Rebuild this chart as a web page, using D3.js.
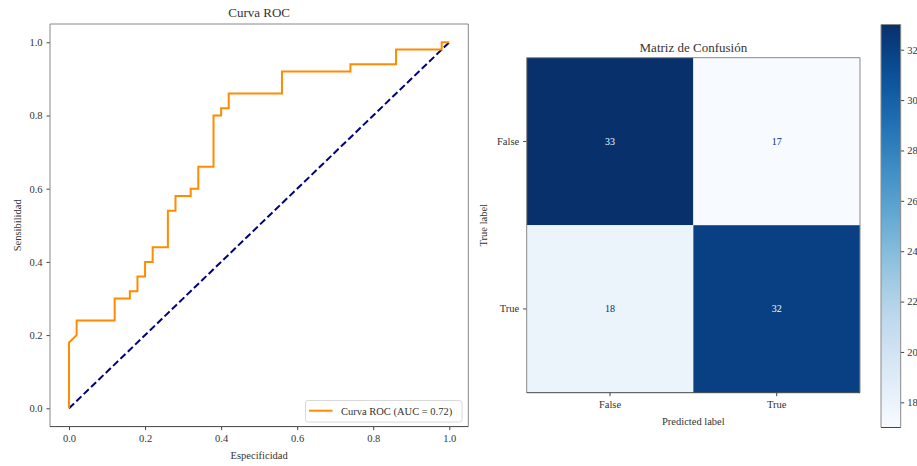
<!DOCTYPE html>
<html>
<head>
<meta charset="utf-8">
<script src="https://cdn.jsdelivr.net/npm/d3@7/dist/d3.min.js"></script>
<style>
  html, body { margin: 0; padding: 0; background: #fff; }
  svg { display: block; }
  text { font-family: "Liberation Serif", "DejaVu Serif", serif; fill: #333; }
</style>
</head>
<body>
<svg id="chart" width="917" height="466"></svg>
<script>
// ROC curve points (false positive rate, true positive rate)
const rocFpr = [0.00, 0.00, 0.02, 0.02, 0.12, 0.12, 0.16, 0.16, 0.18, 0.18, 0.20, 0.20, 0.22, 0.22,
                0.26, 0.26, 0.28, 0.28, 0.32, 0.32, 0.34, 0.34, 0.38, 0.38, 0.40, 0.40, 0.42, 0.42,
                0.56, 0.56, 0.74, 0.74, 0.86, 0.86, 0.98, 0.98, 1.00];
const rocTpr = [0.00, 0.18, 0.20, 0.24, 0.24, 0.30, 0.30, 0.32, 0.32, 0.36, 0.36, 0.40, 0.40, 0.44,
                0.44, 0.54, 0.54, 0.58, 0.58, 0.60, 0.60, 0.66, 0.66, 0.80, 0.80, 0.82, 0.82, 0.86,
                0.86, 0.92, 0.92, 0.94, 0.94, 0.98, 0.98, 1.00, 1.00];
const aucValue = 0.72;
const rocTicks = [0.0, 0.2, 0.4, 0.6, 0.8, 1.0];

// Confusion matrix
const cmLabels = ["False", "True"];
const cmValues = [[33, 17],
                  [18, 32]];
const cbarTicks = [18, 20, 22, 24, 26, 28, 30, 32];

const svg = d3.select("#chart");
const fontSize = 10.5;
const spineV = "#888", spineBottom = "#444";

function spines(g, x0, x1, y0, y1) {
  g.append("line").attr("x1", x0).attr("x2", x1).attr("y1", y0).attr("y2", y0).attr("stroke", spineV);
  g.append("line").attr("x1", x0).attr("x2", x0).attr("y1", y0).attr("y2", y1).attr("stroke", spineV);
  g.append("line").attr("x1", x1).attr("x2", x1).attr("y1", y0).attr("y2", y1).attr("stroke", spineV);
  g.append("line").attr("x1", x0).attr("x2", x1).attr("y1", y1).attr("y2", y1).attr("stroke", spineBottom);
}

function styleAxis(a) {
  a.select(".domain").remove();
  a.selectAll(".tick line").attr("stroke", "#444");
  a.selectAll(".tick text").attr("font-size", fontSize).attr("font-family", "Liberation Serif").attr("fill", "#333");
}

// ---------- ROC panel ----------
const roc = { left: 50, right: 468.3, top: 24, bottom: 426.6 };
const x = d3.scaleLinear().domain([-0.05, 1.05]).range([roc.left, roc.right]);
const y = d3.scaleLinear().domain([-0.05, 1.05]).range([roc.bottom, roc.top]);

const gRoc = svg.append("g");

const xAxis = gRoc.append("g").attr("transform", `translate(0,${roc.bottom})`)
  .call(d3.axisBottom(x).tickValues(rocTicks).tickFormat(d3.format(".1f")).tickSize(3.5).tickPadding(4));
styleAxis(xAxis);
const yAxis = gRoc.append("g").attr("transform", `translate(${roc.left},0)`)
  .call(d3.axisLeft(y).tickValues(rocTicks).tickFormat(d3.format(".1f")).tickSize(3.5).tickPadding(4));
styleAxis(yAxis);

// chance diagonal
gRoc.append("line")
  .attr("x1", x(0)).attr("y1", y(0)).attr("x2", x(1)).attr("y2", y(1))
  .attr("stroke", "#000080").attr("stroke-width", 2).attr("stroke-dasharray", "7,3.2");

// ROC curve
const rocPts = rocFpr.map((f, i) => [f, rocTpr[i]]);
gRoc.append("path")
  .datum(rocPts)
  .attr("d", d3.line().x(d => x(d[0])).y(d => y(d[1])))
  .attr("fill", "none").attr("stroke", "#ff8c00").attr("stroke-width", 2)
  .attr("stroke-linejoin", "miter");

spines(gRoc, roc.left, roc.right, roc.top, roc.bottom);

gRoc.append("text").attr("x", (roc.left + roc.right) / 2).attr("y", 17)
  .attr("text-anchor", "middle").attr("font-size", 13).text("Curva ROC");
gRoc.append("text").attr("x", (roc.left + roc.right) / 2).attr("y", 459)
  .attr("text-anchor", "middle").attr("font-size", fontSize).text("Especificidad");
gRoc.append("text")
  .attr("transform", `translate(21,${(roc.top + roc.bottom) / 2}) rotate(-90)`)
  .attr("text-anchor", "middle").attr("font-size", fontSize).text("Sensibilidad");

// legend
const lg = gRoc.append("g").attr("transform", "translate(305.5,400.5)");
lg.append("rect").attr("width", 156.5).attr("height", 21.5).attr("rx", 2.5)
  .attr("fill", "#fff").attr("fill-opacity", 0.8).attr("stroke", "#d8d8d8");
lg.append("line").attr("x1", 3.5).attr("x2", 27).attr("y1", 10.2).attr("y2", 10.2)
  .attr("stroke", "#ff8c00").attr("stroke-width", 2);
lg.append("text").attr("x", 35.5).attr("y", 14.2).attr("font-size", fontSize)
  .text(`Curva ROC (AUC = ${aucValue.toFixed(2)})`);

// ---------- Confusion matrix panel ----------
const cm = { left: 526.7, right: 860, top: 57.7, bottom: 392.7 };
const flat = cmValues.flat();
const vmin = d3.min(flat), vmax = d3.max(flat);
const color = d3.scaleSequential(d3.interpolateBlues).domain([vmin, vmax]);
const xb = d3.scaleBand().domain(cmLabels).range([cm.left, cm.right]);
const yb = d3.scaleBand().domain(cmLabels).range([cm.top, cm.bottom]);

const gCm = svg.append("g");
const cells = [];
cmValues.forEach((row, i) => row.forEach((v, j) => cells.push({ t: cmLabels[i], p: cmLabels[j], v })));

gCm.selectAll("rect.cell").data(cells).enter().append("rect")
  .attr("class", "cell")
  .attr("x", d => xb(d.p)).attr("y", d => yb(d.t))
  .attr("width", xb.bandwidth()).attr("height", yb.bandwidth())
  .attr("fill", d => color(d.v));

const thresh = (vmin + vmax) / 2;
gCm.selectAll("text.val").data(cells).enter().append("text")
  .attr("class", "val")
  .attr("x", d => xb(d.p) + xb.bandwidth() / 2)
  .attr("y", d => yb(d.t) + yb.bandwidth() / 2 + 3.5)
  .attr("text-anchor", "middle").attr("font-size", 10)
  .style("fill", d => d.v > thresh ? color(vmin) : color(vmax))
  .text(d => d.v);

const cxAxis = gCm.append("g").attr("transform", `translate(0,${cm.bottom})`)
  .call(d3.axisBottom(xb).tickSize(3.5).tickPadding(4));
styleAxis(cxAxis);
const cyAxis = gCm.append("g").attr("transform", `translate(${cm.left},0)`)
  .call(d3.axisLeft(yb).tickSize(3.5).tickPadding(4));
styleAxis(cyAxis);

spines(gCm, cm.left, cm.right, cm.top, cm.bottom);

gCm.append("text").attr("x", (cm.left + cm.right) / 2).attr("y", 52)
  .attr("text-anchor", "middle").attr("font-size", 13).text("Matriz de Confusión");
gCm.append("text").attr("x", (cm.left + cm.right) / 2).attr("y", 425)
  .attr("text-anchor", "middle").attr("font-size", fontSize).text("Predicted label");
gCm.append("text")
  .attr("transform", `translate(487,${(cm.top + cm.bottom) / 2}) rotate(-90)`)
  .attr("text-anchor", "middle").attr("font-size", fontSize).text("True label");

// ---------- Colorbar ----------
const cb = { left: 881, right: 900.7, top: 24.5, bottom: 427.5 };
const cy = d3.scaleLinear().domain([vmin, vmax]).range([cb.bottom, cb.top]);
const defs = svg.append("defs");
const grad = defs.append("linearGradient").attr("id", "cbGrad")
  .attr("x1", 0).attr("y1", 1).attr("x2", 0).attr("y2", 0);
d3.range(0, 1.0001, 0.05).forEach(t => {
  grad.append("stop").attr("offset", t).attr("stop-color", color(vmin + t * (vmax - vmin)));
});
const gCb = svg.append("g");
gCb.append("rect").attr("x", cb.left).attr("y", cb.top)
  .attr("width", cb.right - cb.left).attr("height", cb.bottom - cb.top)
  .attr("fill", "url(#cbGrad)");
const cbAxis = gCb.append("g").attr("transform", `translate(${cb.right},0)`)
  .call(d3.axisRight(cy).tickValues(cbarTicks).tickSize(3.5).tickPadding(3));
styleAxis(cbAxis);
spines(gCb, cb.left, cb.right, cb.top, cb.bottom);
</script>
</body>
</html>
